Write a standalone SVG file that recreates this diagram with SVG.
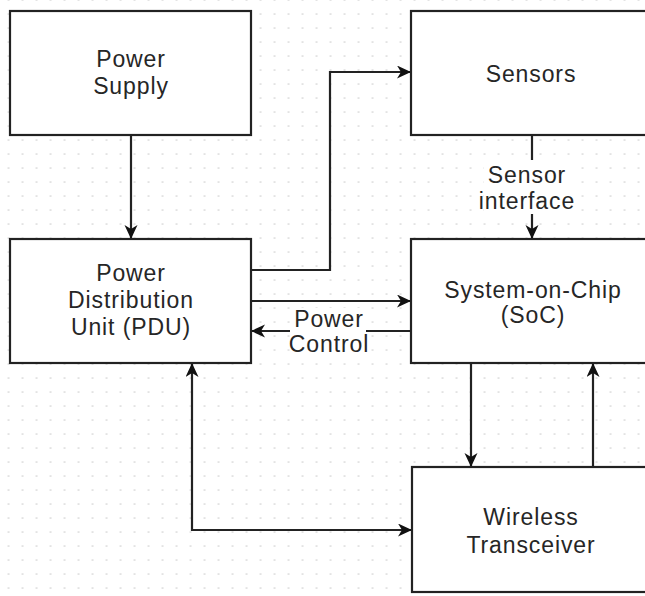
<svg xmlns="http://www.w3.org/2000/svg" width="645" height="596" viewBox="0 0 645 596">
<style>
.node rect{fill:#fff;stroke:#222;stroke-width:2.2}
text{font-family:"Liberation Sans",Arial,sans-serif;font-size:23px;fill:#262626;text-anchor:middle;letter-spacing:0.9px}
.edge{fill:none;stroke:#222;stroke-width:2.2}
.lbl{fill:#fff;stroke:none}
</style>
<defs>
<pattern id="grid" x="7.5" y="-1" width="14" height="14" patternUnits="userSpaceOnUse">
<rect x="0.3" y="0.3" width="1.5" height="1.5" fill="#d0d0d0"/>
</pattern>
<marker id="arr" markerUnits="userSpaceOnUse" markerWidth="16" markerHeight="14" refX="14" refY="6.5" orient="auto-start-reverse" viewBox="0 0 16 14">
<path d="M0,0 L14,6.5 L0,13 L4,6.5 z" fill="#111"/>
</marker>
</defs>
<rect width="645" height="596" fill="#fff"/>
<rect width="645" height="596" fill="url(#grid)"/>
<g id="connectors">
<path class="edge" d="M131,135 L131,239" marker-end="url(#arr)"/>
<path class="edge" d="M251,270 L330,270 L330,72 L411,72" marker-end="url(#arr)"/>
<path class="edge" d="M251,301 L411,301" marker-end="url(#arr)"/>
<path class="edge" d="M411,331 L251,331" marker-end="url(#arr)"/>
<path class="edge" d="M532,135 L532,239" marker-end="url(#arr)"/>
<path class="edge" d="M471,363 L471,467" marker-end="url(#arr)"/>
<path class="edge" d="M593,467 L593,363" marker-end="url(#arr)"/>
<path class="edge" d="M192,363 L192,530 L412,530" marker-start="url(#arr)" marker-end="url(#arr)"/>
<rect class="lbl" x="290" y="308" width="76" height="50"/>
<text x="329" y="327">Power</text>
<text x="329" y="352">Control</text>
<rect class="lbl" x="484" y="160" width="88" height="54"/>
<text x="527" y="183">Sensor</text>
<text x="527" y="209">interface</text>
</g>
<g id="power-supply" class="node">
<rect x="10" y="11" width="241" height="124"/>
<text x="131" y="67">Power</text>
<text x="131" y="94">Supply</text>
</g>
<g id="pdu" class="node">
<rect x="10" y="239" width="241" height="124"/>
<text x="131" y="281">Power</text>
<text x="131" y="308">Distribution</text>
<text x="131" y="335">Unit (PDU)</text>
</g>
<g id="sensors" class="node">
<rect x="411" y="11" width="241" height="124"/>
<text x="531" y="82">Sensors</text>
</g>
<g id="soc" class="node">
<rect x="411" y="239" width="241" height="124"/>
<text x="533" y="298">System-on-Chip</text>
<text x="533" y="323">(SoC)</text>
</g>
<g id="wireless" class="node">
<rect x="412" y="467" width="241" height="125"/>
<text x="531" y="525">Wireless</text>
<text x="531" y="553">Transceiver</text>
</g>
</svg>
